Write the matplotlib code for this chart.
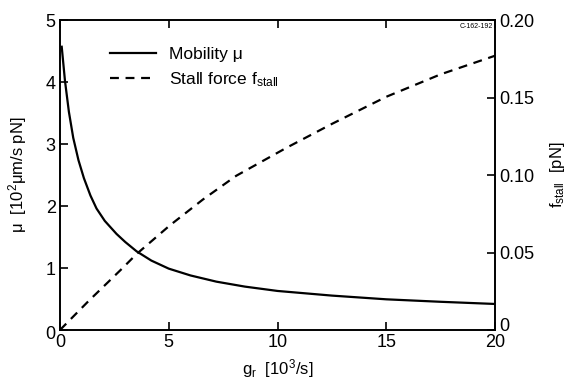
import matplotlib
matplotlib.use('Agg')
import matplotlib.pyplot as plt
from matplotlib.transforms import ScaledTranslation

# mobility curve
g_mu = [0.08, 0.23, 0.41, 0.61, 0.85, 1.1, 1.4, 1.68, 2.06, 2.6, 3.0, 3.52, 4.2,
        5, 6, 7.19, 8.5, 10, 12.5, 15, 17.5, 20]
mu = [4.57, 4.02, 3.52, 3.1, 2.74, 2.45, 2.17, 1.96, 1.76, 1.55, 1.42, 1.27, 1.12,
      0.99, 0.88, 0.78, 0.70, 0.63, 0.555, 0.495, 0.455, 0.42]

# stall force
g_f = [0, 1.3, 2.83, 3.52, 5.05, 6.57, 8.1, 10.4, 12.5, 15, 17.5, 20]
f_stall = [0, 0.0185, 0.0393, 0.049, 0.0675, 0.0842, 0.0995, 0.1175, 0.133,
           0.1505, 0.165, 0.177]

x_ticks = [0, 5, 10, 15, 20]
mu_ticks = [0, 1, 2, 3, 4, 5]
f_ticks = [0, 0.05, 0.10, 0.15, 0.20]
f_labels = ['0', '0.05', '0.10', '0.15', '0.20']

plt.rcParams['font.family'] = ['Liberation Sans', 'DejaVu Sans']
plt.rcParams['mathtext.fontset'] = 'custom'
plt.rcParams['mathtext.rm'] = 'Liberation Sans'
plt.rcParams['mathtext.it'] = 'Liberation Sans'

fig = plt.figure(figsize=(5.69, 3.79), dpi=100)
ax = fig.add_axes([0.1054, 0.1293, 0.7646, 0.8177])
ax2 = ax.twinx()

l1, = ax.plot(g_mu, mu, color='black', lw=1.6, label='Mobility μ')
l2, = ax2.plot(g_f, f_stall, color='black', lw=1.6, dashes=(4, 3),
               label='Stall force f$_{\\rm stall}$')

ax.set_xlim(0, 20)
ax.set_ylim(0, 5)
ax2.set_ylim(0, 0.20)
ax.set_xticks(x_ticks)
ax.set_yticks(mu_ticks)
ax2.set_yticks(f_ticks)
ax2.set_yticklabels(f_labels)

ax.tick_params(direction='in', length=6, width=1.2, labelsize=13, top=True, pad=3)
ax2.tick_params(direction='in', length=6, width=1.2, labelsize=13, pad=3)
for a in (ax, ax2):
    for s in a.spines.values():
        s.set_linewidth(1.2)

# nudge the corner zeros like the original
ax2.get_yticklabels()[0].set_transform(
    ax2.get_yticklabels()[0].get_transform() + ScaledTranslation(0, 4 / 72, fig.dpi_scale_trans))
ax.get_yticklabels()[0].set_transform(
    ax.get_yticklabels()[0].get_transform() + ScaledTranslation(0, -2 / 72, fig.dpi_scale_trans))

ax.set_xlabel('g$_{\\rm r}$  [10$^3$/s]', fontsize=12, labelpad=4)
ax.set_ylabel('μ  [10$^2$μm/s pN]', fontsize=12, labelpad=12)
ax2.set_ylabel('f$_{\\rm stall}$  [pN]', fontsize=12, labelpad=10)

ax.legend(handles=[l1, l2], loc='upper left', bbox_to_anchor=(0.08, 0.965),
          frameon=False, fontsize=12.5, handlelength=2.6, labelspacing=0.5)

ax.text(0.995, 0.99, 'C-162-192', transform=ax.transAxes, fontsize=5,
        ha='right', va='top')

fig.savefig('out.png', dpi=100)
